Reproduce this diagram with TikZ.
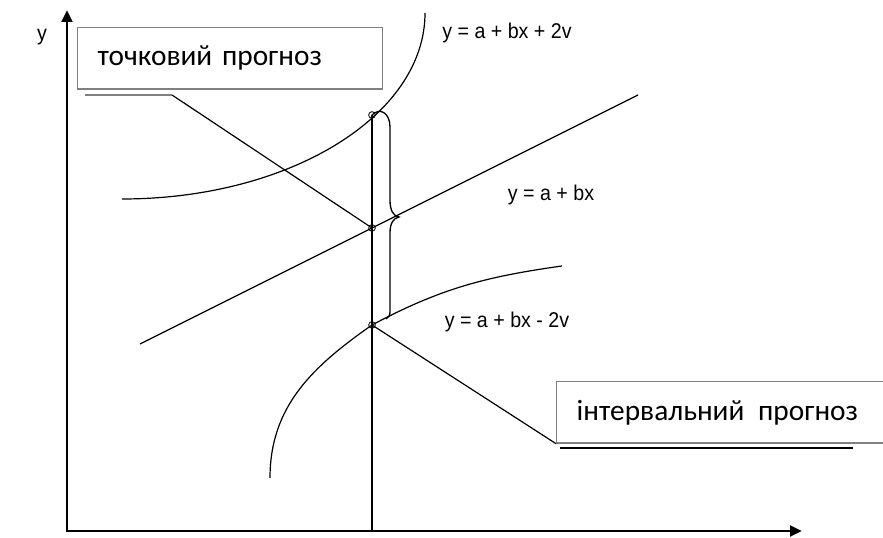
\documentclass[tikz,border=0pt]{standalone}
\usepackage{fontspec}
\setmainfont{Liberation Sans}
\newfontfamily\boxfont{Carlito}
\usetikzlibrary{arrows.meta}
\begin{document}
\begin{tikzpicture}[
  x=0.75pt, y=0.75pt,
  axis/.style={line width=2.2pt, line cap=rect, -{Triangle[length=9pt,width=8pt]}},
  curve/.style={line width=0.9pt},
  callout/.style={
    draw=gray,
    line width=1pt,
    align=left,
    minimum height=46pt,
    inner xsep=15pt,
    anchor=north west,
    font=\boxfont\fontsize{22}{24}\selectfont
  },
  eqlabel/.style={font=\fontsize{16}{18}\selectfont, xscale=0.92},
  dot/.style={circle, draw, line width=0.6pt, inner sep=0pt, minimum size=5pt}
]
\useasboundingbox (0,0) rectangle (883,538);

\coordinate (o) at (67,7);
\coordinate (ytip) at (67,528);
\coordinate (xtip) at (802,7);
\draw[axis] (o) -- (ytip);
\draw[axis] (o) -- (xtip);
\node[eqlabel] (ylab) at (42,501) {y};

\node[callout, text width=198.75pt] (tochk) at (77,511) {точковий прогноз};
\node[callout, text width=225pt] (interv) at (556,157) {інтервальний\hspace{3pt} прогноз};

\node[dot] (ptop) at (372,423) {};
\node[dot] (pmid) at (372,310) {};
\node[dot] (plow) at (372,213) {};

\draw[line width=1.5pt] (ptop.center) -- (ptop |- o);

\draw[curve] (122,339) arc[start angle=270, end angle=360, x radius=303, y radius=186];
\draw[curve] (140,194) -- (638,443);
\draw[curve] (270,60) to[out=90,in=215] (plow.center) to[out=28,in=188] (562,272);

\draw[line width=1pt] (ptop.center) .. controls (380,431) and (390,425) .. (390,411)
  -- (390,338) .. controls (390,328) and (393,322) .. (399,321)
  .. controls (393,320) and (390,314) .. (390,305)
  -- (390,226) .. controls (390,222) and (388,220) .. (386,219);

\node[eqlabel] (eqtop) at (507,505) {y = a + bx + 2v};
\node[eqlabel] (eqmid) at (551,343) {y = a + bx};
\node[eqlabel] (eqlow) at (507,216) {y = a + bx - 2v};

\coordinate (u1a) at (85,443);
\coordinate (u1b) at (172,443);
\draw[gray, line width=1pt] (u1a) -- (u1b);
\draw[curve] (u1b) -- (pmid.center);

\coordinate (u2a) at (560,90);
\coordinate (u2b) at (853,90);
\draw[curve] (plow.center) -- (interv.south west);
\draw[line width=1.5pt] (u2a) -- (u2b);
\end{tikzpicture}
\end{document}
